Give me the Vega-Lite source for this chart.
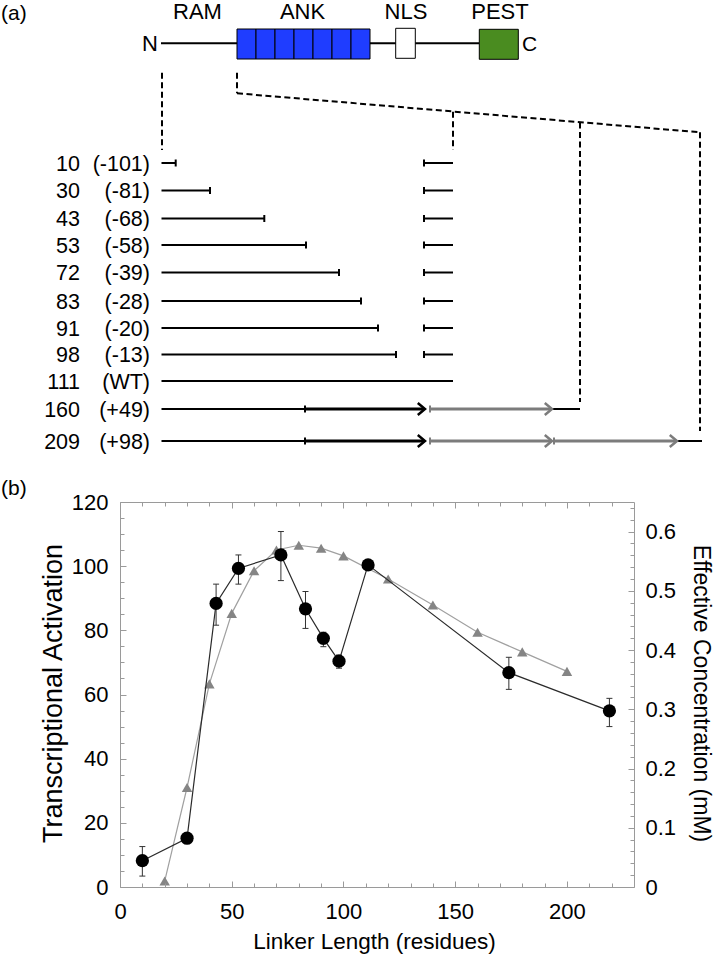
{
  "$schema": "https://vega.github.io/schema/vega-lite/v6.json",
  "width": 514,
  "height": 385,
  "padding": 0,
  "autosize": {"type": "pad"},
  "background": "white",
  "config": {
    "view": {"stroke": null},
    "axis": {"zindex": 1, "grid": false, "domainColor": "#9a9a9a", "tickColor": "#9a9a9a", "domainWidth": 1, "tickWidth": 1, "labelColor": "black", "labelFont": "Liberation Sans", "labelFontSize": 22, "titleFont": "Liberation Sans", "titleFontWeight": "normal", "titleColor": "black", "labelFlush": false, "labelOverlap": false},
    "text": {"font": "Liberation Sans"}
  },
  "resolve": {"scale": {"x": "independent", "y": "independent", "color": "independent"}},
  "datasets": {
    "bg": [{"x0": 0, "x1": 713, "y0": 0, "y1": 954}],
    "protein": [{"x0": 161, "x1": 479, "y": 43.3}],
    "domains": [
      {"name": "ANK", "x0": 237, "x1": 256, "y0": 29, "y1": 59},
      {"name": "ANK", "x0": 256, "x1": 275, "y0": 29, "y1": 59},
      {"name": "ANK", "x0": 275, "x1": 294, "y0": 29, "y1": 59},
      {"name": "ANK", "x0": 294, "x1": 313, "y0": 29, "y1": 59},
      {"name": "ANK", "x0": 313, "x1": 332, "y0": 29, "y1": 59},
      {"name": "ANK", "x0": 332, "x1": 351, "y0": 29, "y1": 59},
      {"name": "ANK", "x0": 351, "x1": 370, "y0": 29, "y1": 59},
      {"name": "NLS", "x0": 395.7, "x1": 415.3, "y0": 28.3, "y1": 58.3},
      {"name": "PEST", "x0": 479.3, "x1": 518.3, "y0": 29.3, "y1": 59.3}
    ],
    "header": [
      {"t": "RAM", "x": 197.5, "y": 18.5},
      {"t": "ANK", "x": 302.5, "y": 18.5},
      {"t": "NLS", "x": 406, "y": 18.5},
      {"t": "PEST", "x": 500, "y": 18.5}
    ],
    "rightText": [{"t": "N", "x": 158, "y": 51}],
    "leftText": [
      {"t": "C", "x": 522, "y": 51},
      {"t": "(a)", "x": 1, "y": 20},
      {"t": "(b)", "x": 1, "y": 494.5}
    ],
    "rows": [
      {"n": "10", "p": "(-101)", "y": 163},
      {"n": "30", "p": "(-81)", "y": 190.5},
      {"n": "43", "p": "(-68)", "y": 218.5},
      {"n": "53", "p": "(-58)", "y": 245},
      {"n": "72", "p": "(-39)", "y": 272.5},
      {"n": "83", "p": "(-28)", "y": 301},
      {"n": "91", "p": "(-20)", "y": 328},
      {"n": "98", "p": "(-13)", "y": 354.5},
      {"n": "111", "p": "(WT)", "y": 381},
      {"n": "160", "p": "(+49)", "y": 409},
      {"n": "209", "p": "(+98)", "y": 441}
    ],
    "dashes": [
      {"x0": 162, "y0": 72.7, "x1": 162, "y1": 150},
      {"x0": 237, "y0": 72.7, "x1": 237, "y1": 93.3},
      {"x0": 237, "y0": 93.3, "x1": 700, "y1": 132.3},
      {"x0": 453, "y0": 111.7, "x1": 453, "y1": 150},
      {"x0": 580, "y0": 122.4, "x1": 580, "y1": 402},
      {"x0": 700, "y0": 132.3, "x1": 700, "y1": 431}
    ],
    "segments": [
      {"kind": "thin", "x0": 161.5, "x1": 175.7, "y": 163},
      {"kind": "thin", "x0": 424, "x1": 453, "y": 163},
      {"kind": "thin", "x0": 161.5, "x1": 210, "y": 190.5},
      {"kind": "thin", "x0": 424, "x1": 453, "y": 190.5},
      {"kind": "thin", "x0": 161.5, "x1": 264.3, "y": 218.5},
      {"kind": "thin", "x0": 424, "x1": 453, "y": 218.5},
      {"kind": "thin", "x0": 161.5, "x1": 306, "y": 245},
      {"kind": "thin", "x0": 424, "x1": 453, "y": 245},
      {"kind": "thin", "x0": 161.5, "x1": 339, "y": 272.5},
      {"kind": "thin", "x0": 424, "x1": 453, "y": 272.5},
      {"kind": "thin", "x0": 161.5, "x1": 361, "y": 301},
      {"kind": "thin", "x0": 424, "x1": 453, "y": 301},
      {"kind": "thin", "x0": 161.5, "x1": 378, "y": 328},
      {"kind": "thin", "x0": 424, "x1": 453, "y": 328},
      {"kind": "thin", "x0": 161.5, "x1": 396, "y": 354.5},
      {"kind": "thin", "x0": 424, "x1": 453, "y": 354.5},
      {"kind": "thin", "x0": 161.5, "x1": 453, "y": 381},
      {"kind": "thin", "x0": 161.5, "x1": 305, "y": 409},
      {"kind": "thin", "x0": 552, "x1": 580, "y": 409},
      {"kind": "thin", "x0": 161.5, "x1": 305, "y": 441},
      {"kind": "thin", "x0": 677, "x1": 702, "y": 441},
      {"kind": "thickBlack", "x0": 305, "x1": 424, "y": 409},
      {"kind": "thickBlack", "x0": 305, "x1": 424, "y": 441},
      {"kind": "thickGray", "x0": 430, "x1": 551, "y": 409},
      {"kind": "thickGray", "x0": 430, "x1": 551, "y": 441},
      {"kind": "thickGray", "x0": 554, "x1": 676, "y": 441}
    ],
    "endTicks": [
      {"kind": "black", "x": 175.7, "y": 163},
      {"kind": "black", "x": 210, "y": 190.5},
      {"kind": "black", "x": 264.3, "y": 218.5},
      {"kind": "black", "x": 306, "y": 245},
      {"kind": "black", "x": 339, "y": 272.5},
      {"kind": "black", "x": 361, "y": 301},
      {"kind": "black", "x": 378, "y": 328},
      {"kind": "black", "x": 396, "y": 354.5},
      {"kind": "black", "x": 424, "y": 163},
      {"kind": "black", "x": 424, "y": 190.5},
      {"kind": "black", "x": 424, "y": 218.5},
      {"kind": "black", "x": 424, "y": 245},
      {"kind": "black", "x": 424, "y": 272.5},
      {"kind": "black", "x": 424, "y": 301},
      {"kind": "black", "x": 424, "y": 328},
      {"kind": "black", "x": 424, "y": 354.5},
      {"kind": "black", "x": 305, "y": 409},
      {"kind": "black", "x": 305, "y": 441},
      {"kind": "gray", "x": 430, "y": 409},
      {"kind": "gray", "x": 430, "y": 441},
      {"kind": "gray", "x": 554, "y": 441}
    ],
    "chevrons": [
      {"kind": "black", "x": 425, "y": 409},
      {"kind": "black", "x": 425, "y": 441},
      {"kind": "gray", "x": 552, "y": 409},
      {"kind": "gray", "x": 552, "y": 441},
      {"kind": "gray", "x": 677, "y": 441}
    ],
    "act": [
      {"len": 10, "act": 8.2, "lo": 3.4, "hi": 12.6},
      {"len": 30, "act": 15.2, "lo": null, "hi": null},
      {"len": 43, "act": 88.4, "lo": 81.6, "hi": 94.4},
      {"len": 53, "act": 99.3, "lo": 94.4, "hi": 103.5},
      {"len": 72, "act": 103.5, "lo": 95.5, "hi": 110.8},
      {"len": 83, "act": 86.7, "lo": 80.6, "hi": 92.1},
      {"len": 91, "act": 77.5, "lo": 74.9, "hi": 79.4},
      {"len": 98, "act": 70.4, "lo": 68.2, "hi": 72.3},
      {"len": 111, "act": 100.4, "lo": null, "hi": null},
      {"len": 174, "act": 66.8, "lo": 61.6, "hi": 71.6},
      {"len": 219, "act": 54.9, "lo": 50.0, "hi": 58.8}
    ],
    "conc": [
      {"len": 20, "conc": 0.01},
      {"len": 30, "conc": 0.168},
      {"len": 40, "conc": 0.343},
      {"len": 50, "conc": 0.462},
      {"len": 60, "conc": 0.534},
      {"len": 70, "conc": 0.569},
      {"len": 80, "conc": 0.577},
      {"len": 90, "conc": 0.572},
      {"len": 100, "conc": 0.559},
      {"len": 120, "conc": 0.52},
      {"len": 140, "conc": 0.476},
      {"len": 160, "conc": 0.43},
      {"len": 180, "conc": 0.397},
      {"len": 200, "conc": 0.364}
    ]
  },
  "layer": [
    {
      "data": {"name": "bg"},
      "mark": {"type": "rect", "fill": "white", "opacity": 0, "strokeWidth": 0},
      "encoding": {
        "x": {"field": "x0", "type": "quantitative", "scale": {"domain": [120, 634], "nice": false, "zero": false}, "axis": null},
        "x2": {"field": "x1"},
        "y": {"field": "y0", "type": "quantitative", "scale": {"domain": [502, 887], "nice": false, "zero": false, "reverse": true}, "axis": null},
        "y2": {"field": "y1"}
      }
    },
    {
      "data": {"name": "conc"},
      "mark": {"type": "line", "color": "#a0a0a0", "strokeWidth": 1.2},
      "encoding": {
        "x": {"field": "len", "type": "quantitative", "scale": {"domain": [0, 230], "nice": false, "zero": false}, "axis": null},
        "y": {"field": "conc", "type": "quantitative", "scale": {"domain": [0, 0.65], "nice": false, "zero": false},
          "axis": {"orient": "right", "zindex": 1, "values": [0, 0.1, 0.2, 0.3, 0.4, 0.5, 0.6], "format": "~g", "tickSize": -6, "labelPadding": 17, "domain": true,
            "title": "Effective Concentration (mM)", "titleFontSize": 23, "titleAngle": 90, "titleAlign": "center", "titleBaseline": "alphabetic", "titleX": 59, "titleY": 191}}
      }
    },
    {
      "data": {"name": "conc"},
      "mark": {"type": "point", "shape": "triangle-up", "filled": true, "color": "#858585", "size": 110, "opacity": 1},
      "encoding": {
        "x": {"field": "len", "type": "quantitative", "scale": {"domain": [0, 230], "nice": false, "zero": false}, "axis": null},
        "y": {"field": "conc", "type": "quantitative", "scale": {"domain": [0, 0.65], "nice": false, "zero": false},
          "axis": {"orient": "right", "zindex": 1, "values": [0.02, 0.04, 0.06, 0.08, 0.12, 0.14, 0.16, 0.18, 0.22, 0.24, 0.26, 0.28, 0.32, 0.34, 0.36, 0.38, 0.42, 0.44, 0.46, 0.48, 0.52, 0.54, 0.56, 0.58, 0.62, 0.64], "tickSize": -4, "labels": false, "domain": false, "title": null}}
      }
    },
    {
      "data": {"name": "act"},
      "mark": {"type": "line", "color": "#2a2a2a", "strokeWidth": 1.2},
      "encoding": {
        "x": {"field": "len", "type": "quantitative", "scale": {"domain": [0, 230], "nice": false, "zero": false},
          "axis": {"orient": "bottom", "zindex": 1, "values": [0, 50, 100, 150, 200], "tickSize": -6, "labelPadding": 20, "domain": true,
            "title": "Linker Length (residues)", "titleFontSize": 22.5, "titleAlign": "center", "titleBaseline": "alphabetic", "titleX": 254, "titleY": 61}},
        "y": {"field": "act", "type": "quantitative", "scale": {"domain": [0, 120], "nice": false, "zero": false},
          "axis": {"orient": "left", "zindex": 1, "values": [0, 20, 40, 60, 80, 100, 120], "tickSize": -6, "labelPadding": 18, "domain": true,
            "title": "Transcriptional Activation", "titleFontSize": 27, "titleAngle": 270, "titleAlign": "center", "titleBaseline": "alphabetic", "titleX": -59, "titleY": 191}}
      }
    },
    {
      "data": {"name": "act"},
      "transform": [{"filter": "datum.lo != null"}],
      "mark": {"type": "rule", "color": "#333333", "strokeWidth": 1},
      "encoding": {
        "x": {"field": "len", "type": "quantitative", "scale": {"domain": [0, 230], "nice": false, "zero": false},
          "axis": {"orient": "bottom", "zindex": 1, "values": [10, 20, 30, 40, 60, 70, 80, 90, 110, 120, 130, 140, 160, 170, 180, 190, 210, 220], "tickSize": -4, "labels": false, "domain": false, "title": null}},
        "y": {"field": "lo", "type": "quantitative", "scale": {"domain": [0, 120], "nice": false, "zero": false},
          "axis": {"orient": "left", "zindex": 1, "values": [5, 10, 15, 25, 30, 35, 45, 50, 55, 65, 70, 75, 85, 90, 95, 105, 110, 115], "tickSize": -4, "labels": false, "domain": false, "title": null}},
        "y2": {"field": "hi"}
      }
    },
    {
      "data": {"name": "act"},
      "transform": [{"filter": "datum.lo != null"}],
      "mark": {"type": "rule", "color": "#333333", "strokeWidth": 1, "xOffset": -3, "x2Offset": 3},
      "encoding": {
        "x": {"field": "len", "type": "quantitative", "scale": {"domain": [0, 230], "nice": false, "zero": false},
          "axis": {"orient": "top", "zindex": 1, "values": [0, 50, 100, 150, 200], "tickSize": -6, "labels": false, "domain": true, "title": null}},
        "x2": {"field": "len"},
        "y": {"field": "hi", "type": "quantitative", "scale": {"domain": [0, 120], "nice": false, "zero": false}, "axis": null}
      }
    },
    {
      "data": {"name": "act"},
      "transform": [{"filter": "datum.lo != null"}],
      "mark": {"type": "rule", "color": "#333333", "strokeWidth": 1, "xOffset": -3, "x2Offset": 3},
      "encoding": {
        "x": {"field": "len", "type": "quantitative", "scale": {"domain": [0, 230], "nice": false, "zero": false},
          "axis": {"orient": "top", "zindex": 1, "values": [10, 20, 30, 40, 60, 70, 80, 90, 110, 120, 130, 140, 160, 170, 180, 190, 210, 220], "tickSize": -4, "labels": false, "domain": false, "title": null}},
        "x2": {"field": "len"},
        "y": {"field": "lo", "type": "quantitative", "scale": {"domain": [0, 120], "nice": false, "zero": false}, "axis": null}
      }
    },
    {
      "data": {"name": "act"},
      "mark": {"type": "point", "shape": "circle", "filled": true, "color": "black", "size": 175, "opacity": 1},
      "encoding": {
        "x": {"field": "len", "type": "quantitative", "scale": {"domain": [0, 230], "nice": false, "zero": false}, "axis": null},
        "y": {"field": "act", "type": "quantitative", "scale": {"domain": [0, 120], "nice": false, "zero": false}, "axis": null}
      }
    },
    {
      "data": {"name": "protein"},
      "mark": {"type": "rule", "color": "black", "strokeWidth": 2},
      "encoding": {
        "x": {"field": "x0", "type": "quantitative", "scale": {"domain": [120, 634], "nice": false, "zero": false}, "axis": null},
        "x2": {"field": "x1"},
        "y": {"field": "y", "type": "quantitative", "scale": {"domain": [502, 887], "nice": false, "zero": false, "reverse": true}, "axis": null}
      }
    },
    {
      "data": {"name": "domains"},
      "mark": {"type": "rect", "stroke": "black", "strokeWidth": 1},
      "encoding": {
        "x": {"field": "x0", "type": "quantitative", "scale": {"domain": [120, 634], "nice": false, "zero": false}, "axis": null},
        "x2": {"field": "x1"},
        "y": {"field": "y0", "type": "quantitative", "scale": {"domain": [502, 887], "nice": false, "zero": false, "reverse": true}, "axis": null},
        "y2": {"field": "y1"},
        "fill": {"field": "name", "type": "nominal", "scale": {"domain": ["ANK", "NLS", "PEST"], "range": ["#1f3dff", "#ffffff", "#4a8c20"]}, "legend": null}
      }
    },
    {
      "data": {"name": "header"},
      "mark": {"type": "text", "align": "center", "baseline": "alphabetic", "fontSize": 22, "color": "black"},
      "encoding": {
        "x": {"field": "x", "type": "quantitative", "scale": {"domain": [120, 634], "nice": false, "zero": false}, "axis": null},
        "y": {"field": "y", "type": "quantitative", "scale": {"domain": [502, 887], "nice": false, "zero": false, "reverse": true}, "axis": null},
        "text": {"field": "t"}
      }
    },
    {
      "data": {"name": "rightText"},
      "mark": {"type": "text", "align": "right", "baseline": "alphabetic", "fontSize": 22, "color": "black"},
      "encoding": {
        "x": {"field": "x", "type": "quantitative", "scale": {"domain": [120, 634], "nice": false, "zero": false}, "axis": null},
        "y": {"field": "y", "type": "quantitative", "scale": {"domain": [502, 887], "nice": false, "zero": false, "reverse": true}, "axis": null},
        "text": {"field": "t"}
      }
    },
    {
      "data": {"name": "leftText"},
      "mark": {"type": "text", "align": "left", "baseline": "alphabetic", "fontSize": 21, "color": "black"},
      "encoding": {
        "x": {"field": "x", "type": "quantitative", "scale": {"domain": [120, 634], "nice": false, "zero": false}, "axis": null},
        "y": {"field": "y", "type": "quantitative", "scale": {"domain": [502, 887], "nice": false, "zero": false, "reverse": true}, "axis": null},
        "text": {"field": "t"}
      }
    },
    {
      "data": {"name": "rows"},
      "mark": {"type": "text", "align": "right", "baseline": "alphabetic", "dy": 7.5, "fontSize": 21.5, "color": "black"},
      "encoding": {
        "x": {"datum": 80, "type": "quantitative", "scale": {"domain": [120, 634], "nice": false, "zero": false}, "axis": null},
        "y": {"field": "y", "type": "quantitative", "scale": {"domain": [502, 887], "nice": false, "zero": false, "reverse": true}, "axis": null},
        "text": {"field": "n"}
      }
    },
    {
      "data": {"name": "rows"},
      "mark": {"type": "text", "align": "right", "baseline": "alphabetic", "dy": 7.5, "fontSize": 21.5, "color": "black"},
      "encoding": {
        "x": {"datum": 150, "type": "quantitative", "scale": {"domain": [120, 634], "nice": false, "zero": false}, "axis": null},
        "y": {"field": "y", "type": "quantitative", "scale": {"domain": [502, 887], "nice": false, "zero": false, "reverse": true}, "axis": null},
        "text": {"field": "p"}
      }
    },
    {
      "data": {"name": "dashes"},
      "mark": {"type": "rule", "color": "black", "strokeWidth": 2, "strokeDash": [6, 3.5]},
      "encoding": {
        "x": {"field": "x0", "type": "quantitative", "scale": {"domain": [120, 634], "nice": false, "zero": false}, "axis": null},
        "x2": {"field": "x1"},
        "y": {"field": "y0", "type": "quantitative", "scale": {"domain": [502, 887], "nice": false, "zero": false, "reverse": true}, "axis": null},
        "y2": {"field": "y1"}
      }
    },
    {
      "data": {"name": "segments"},
      "transform": [{"filter": "datum.kind === 'thin'"}],
      "mark": {"type": "rule", "color": "black", "strokeWidth": 2},
      "encoding": {
        "x": {"field": "x0", "type": "quantitative", "scale": {"domain": [120, 634], "nice": false, "zero": false}, "axis": null},
        "x2": {"field": "x1"},
        "y": {"field": "y", "type": "quantitative", "scale": {"domain": [502, 887], "nice": false, "zero": false, "reverse": true}, "axis": null}
      }
    },
    {
      "data": {"name": "segments"},
      "transform": [{"filter": "datum.kind === 'thickBlack'"}],
      "mark": {"type": "rule", "color": "black", "strokeWidth": 3},
      "encoding": {
        "x": {"field": "x0", "type": "quantitative", "scale": {"domain": [120, 634], "nice": false, "zero": false}, "axis": null},
        "x2": {"field": "x1"},
        "y": {"field": "y", "type": "quantitative", "scale": {"domain": [502, 887], "nice": false, "zero": false, "reverse": true}, "axis": null}
      }
    },
    {
      "data": {"name": "segments"},
      "transform": [{"filter": "datum.kind === 'thickGray'"}],
      "mark": {"type": "rule", "color": "#7c7c7c", "strokeWidth": 3},
      "encoding": {
        "x": {"field": "x0", "type": "quantitative", "scale": {"domain": [120, 634], "nice": false, "zero": false}, "axis": null},
        "x2": {"field": "x1"},
        "y": {"field": "y", "type": "quantitative", "scale": {"domain": [502, 887], "nice": false, "zero": false, "reverse": true}, "axis": null}
      }
    },
    {
      "data": {"name": "endTicks"},
      "transform": [{"filter": "datum.kind === 'black'"}],
      "mark": {"type": "rule", "color": "black", "strokeWidth": 2, "yOffset": -3.5, "y2Offset": 3.5},
      "encoding": {
        "x": {"field": "x", "type": "quantitative", "scale": {"domain": [120, 634], "nice": false, "zero": false}, "axis": null},
        "y": {"field": "y", "type": "quantitative", "scale": {"domain": [502, 887], "nice": false, "zero": false, "reverse": true}, "axis": null},
        "y2": {"field": "y"}
      }
    },
    {
      "data": {"name": "endTicks"},
      "transform": [{"filter": "datum.kind === 'gray'"}],
      "mark": {"type": "rule", "color": "#7c7c7c", "strokeWidth": 2, "yOffset": -3.5, "y2Offset": 3.5},
      "encoding": {
        "x": {"field": "x", "type": "quantitative", "scale": {"domain": [120, 634], "nice": false, "zero": false}, "axis": null},
        "y": {"field": "y", "type": "quantitative", "scale": {"domain": [502, 887], "nice": false, "zero": false, "reverse": true}, "axis": null},
        "y2": {"field": "y"}
      }
    },
    {
      "data": {"name": "chevrons"},
      "transform": [{"filter": "datum.kind === 'black'"}],
      "mark": {"type": "point", "shape": "M-1.2,-1L0,0L-1.2,1", "filled": false, "stroke": "black", "strokeWidth": 2.5, "size": 144, "opacity": 1},
      "encoding": {
        "x": {"field": "x", "type": "quantitative", "scale": {"domain": [120, 634], "nice": false, "zero": false}, "axis": null},
        "y": {"field": "y", "type": "quantitative", "scale": {"domain": [502, 887], "nice": false, "zero": false, "reverse": true}, "axis": null}
      }
    },
    {
      "data": {"name": "chevrons"},
      "transform": [{"filter": "datum.kind === 'gray'"}],
      "mark": {"type": "point", "shape": "M-1.2,-1L0,0L-1.2,1", "filled": false, "stroke": "#7c7c7c", "strokeWidth": 2.5, "size": 144, "opacity": 1},
      "encoding": {
        "x": {"field": "x", "type": "quantitative", "scale": {"domain": [120, 634], "nice": false, "zero": false}, "axis": null},
        "y": {"field": "y", "type": "quantitative", "scale": {"domain": [502, 887], "nice": false, "zero": false, "reverse": true}, "axis": null}
      }
    }
  ]
}
